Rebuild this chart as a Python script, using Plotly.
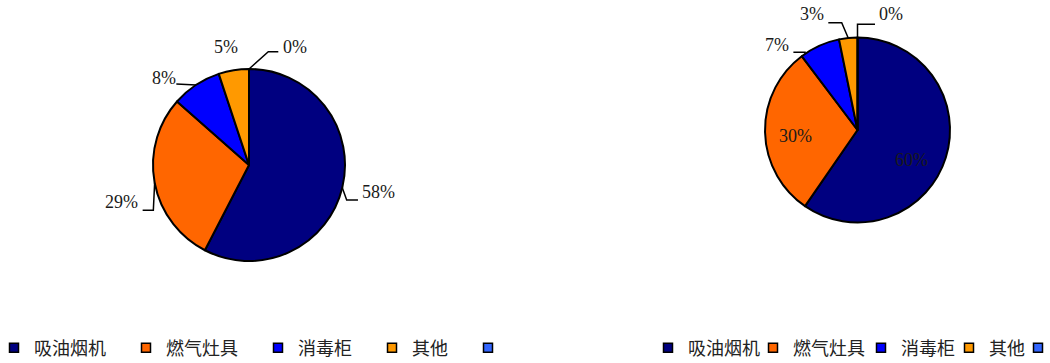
import math
import plotly.graph_objects as go

# ---------------- data ----------------
categories = ["吸油烟机", "燃气灶具", "消毒柜", "其他", " "]
left_values = [57.6, 28.9, 8.4, 5.1, 0.0]
right_values = [59.6, 30.1, 7.1, 3.2, 0.0]
colors = ["#000080", "#FF6600", "#0000FF", "#FF9900", "#3366FF"]

# ---------------- layout helpers ----------------
W, H = 1050, 363
LABEL_FONT = dict(family="Liberation Serif, Times New Roman, serif", size=18, color="#1a1a1a")
LEGEND_FONT = dict(family="Noto Sans CJK SC, sans-serif", size=18, color="#222222")


def px(x, y):
    return x / W, 1 - y / H


# label placement styles: (reference, anchor fraction within slice, text offset, leader points offsets)
left_label_style = [
    ("edge", 0.5, (36, 4), [(4.4, 12.3), (15.7, 12.3)]),
    ("edge", 0.5, (-33, 19), [(-1.3, 27.5), (-12, 27.5)]),
    ("edge", 0.5, (-32.4, -6.8), [(-19.7, -1)]),
    ("edge", 0.5, (-7.6, -23.2), []),
    ("edge", 0.5, (46, -22), [(19.3, -17.3), (29.3, -17.3)]),
]
right_label_style = [
    ("center", 0.5, (53.5, 30), []),
    ("center", 0.5, (-62.5, 6), []),
    ("edge", 0.1, (-28.5, -8.4), [(0, -1.6), (-11.7, -1.6)]),
    ("edge", 0.5, (-36.5, -23.8), [(-6.5, -15.3), (-19.9, -15.3)]),
    ("edge", 0.5, (33.8, -23.3), [(0, -13.2), (17.5, -13.2)]),
]

pies = [
    dict(values=left_values, cx=249, cy=165, r=96, style=left_label_style),
    dict(values=right_values, cx=857.5, cy=130, r=92.5, style=right_label_style),
]

fig = go.Figure()
annotations = []
shapes = []

for p in pies:
    cx, cy, r = p["cx"], p["cy"], p["r"]
    x0, y1 = px(cx - r, cy - r)
    x1, y0 = px(cx + r, cy + r)
    fig.add_trace(go.Pie(
        labels=categories, values=p["values"], sort=False, direction="clockwise",
        rotation=0, marker=dict(colors=colors, line=dict(color="#000000", width=2)),
        textinfo="none", showlegend=False, hoverinfo="label+percent",
        domain=dict(x=[x0, x1], y=[y0, y1]),
    ))
    total = sum(p["values"])
    cum = 0.0
    for v, (ref, frac, toff, pts) in zip(p["values"], p["style"]):
        ang = (cum + v * frac) / total * 2 * math.pi
        cum += v
        ex, ey = cx + r * math.sin(ang), cy - r * math.cos(ang)
        bx, by = (ex, ey) if ref == "edge" else (cx, cy)
        tx, ty = bx + toff[0], by + toff[1]
        txt = f"{round(v / total * 100)}%"
        ax_, ay_ = px(tx, ty)
        annotations.append(dict(x=ax_, y=ay_, xref="paper", yref="paper", text=txt,
                                showarrow=False, xanchor="center", yanchor="middle",
                                font=LABEL_FONT))
        if pts:
            path_pts = [(ex, ey)] + [(ex + dx, ey + dy) for dx, dy in pts]
            path = "M " + " L ".join(f"{px(a, b)[0]:.5f},{px(a, b)[1]:.5f}" for a, b in path_pts)
            shapes.append(dict(type="path", path=path, xref="paper", yref="paper",
                               line=dict(color="#000000", width=1.5)))

# legend entries (one per category, per legend)
left_entry_width = [87, 87, 69, 51, 0]
right_entry_width = [60, 63, 43, 24, 0]
for leg, widths in (("legend", left_entry_width), ("legend2", right_entry_width)):
    for name, col, w in zip(categories, colors, widths):
        fig.add_trace(go.Scatter(
            x=[None], y=[None], mode="markers", name=name, legend=leg,
            marker=dict(symbol="square", size=9, color=col, line=dict(color="#000000", width=1.5)),
            legendwidth=w if w else None, hoverinfo="skip",
        ))

fig.update_layout(
    width=W, height=H,
    margin=dict(l=0, r=0, t=0, b=0, autoexpand=False),
    paper_bgcolor="#ffffff", plot_bgcolor="#ffffff",
    xaxis=dict(visible=False), yaxis=dict(visible=False),
    annotations=annotations, shapes=shapes,
    legend=dict(orientation="h", x=-6 / W, xanchor="left", y=1 - 348 / H, yanchor="middle",
                font=LEGEND_FONT, bgcolor="rgba(0,0,0,0)", itemclick=False, itemdoubleclick=False),
    legend2=dict(orientation="h", x=648 / W, xanchor="left", y=1 - 348 / H, yanchor="middle",
                 font=LEGEND_FONT, bgcolor="rgba(0,0,0,0)", itemclick=False, itemdoubleclick=False),
)

fig.write_html("out.html")
